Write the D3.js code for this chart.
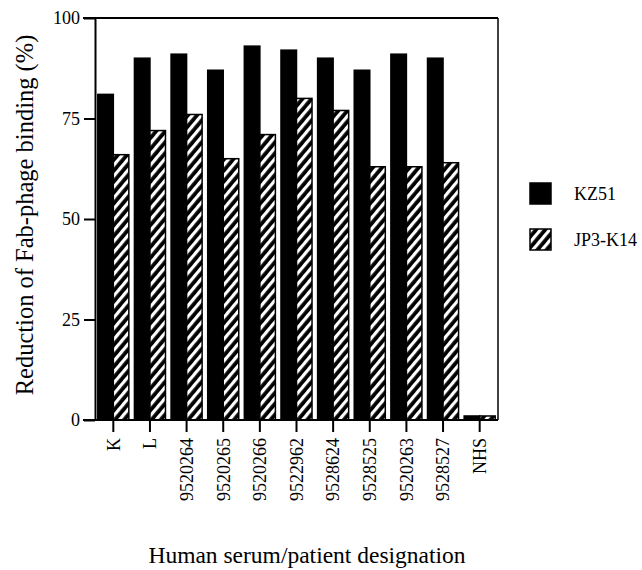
<!DOCTYPE html>
<html>
<head>
<meta charset="utf-8">
<script src="https://cdn.jsdelivr.net/npm/d3@7"></script>
<style>
  body { margin: 0; background: #fff; }
  svg text { font-family: "Liberation Serif", "DejaVu Serif", serif !important; fill: #000; }
</style>
</head>
<body>
<script>
// categories and values
var categories = ["K", "L", "9520264", "9520265", "9520266", "9522962", "9528624", "9528525", "9520263", "9528527", "NHS"];
var kz51 = [81, 90, 91, 87, 93, 92, 90, 87, 91, 90, 1];
var jp3k14 = [66, 72, 76, 65, 71, 80, 77, 63, 63, 64, 1];
var seriesNames = ["KZ51", "JP3-K14"];
var yTicks = [0, 25, 50, 75, 100];

var w = 642, h = 570;
var plotLeft = 95, plotRight = 498, plotTop = 18, plotBottom = 420;
var serif = "Liberation Serif, DejaVu Serif, serif";

var svg = d3.select("body").append("svg")
    .attr("width", w)
    .attr("height", h)
    .attr("font-family", serif);

// hatch pattern: black with white diagonal stripes
var defs = svg.append("defs");
defs.append("pattern")
    .attr("id", "hatch")
    .attr("patternUnits", "userSpaceOnUse")
    .attr("width", 7)
    .attr("height", 7)
    .attr("patternTransform", "rotate(40)")
    .call(function(p) {
        p.append("rect").attr("width", 7).attr("height", 7).attr("fill", "#000");
        p.append("rect").attr("x", 0).attr("width", 3.2).attr("height", 7).attr("fill", "#fff");
    });

var x = d3.scaleBand()
    .domain(categories)
    .range([plotLeft, plotRight])
    .paddingInner(0)
    .paddingOuter(0);

var xs = d3.scaleBand()
    .domain(seriesNames)
    .range([0, x.bandwidth()])
    .paddingOuter(0.18)
    .paddingInner(0);

var y = d3.scaleLinear()
    .domain([0, 100])
    .range([plotBottom, plotTop]);

var data = categories.map(function(c, i) {
    return { cat: c, vals: [
        { s: "KZ51", v: kz51[i] },
        { s: "JP3-K14", v: jp3k14[i] }
    ]};
});

// bars
var groups = svg.selectAll("g.grp")
    .data(data)
    .enter()
    .append("g")
    .attr("class", "grp")
    .attr("transform", function(d) { return "translate(" + x(d.cat) + ",0)"; });

groups.selectAll("rect")
    .data(function(d) { return d.vals; })
    .enter()
    .append("rect")
    .attr("x", function(d) { return xs(d.s); })
    .attr("width", xs.bandwidth())
    .attr("y", function(d) { return y(d.v); })
    .attr("height", function(d) { return y(0) - y(d.v); })
    .attr("fill", function(d) { return d.s == "KZ51" ? "#000" : "url(#hatch)"; })
    .attr("stroke", "#000")
    .attr("stroke-width", 1.5);

// frame (top and right)
svg.append("line")
    .attr("x1", plotLeft - 12).attr("x2", plotRight)
    .attr("y1", plotTop).attr("y2", plotTop)
    .attr("stroke", "#000").attr("stroke-width", 2);
svg.append("line")
    .attr("x1", plotRight).attr("x2", plotRight)
    .attr("y1", plotTop).attr("y2", plotBottom)
    .attr("stroke", "#000").attr("stroke-width", 1.5);

// axes
var yAxis = d3.axisLeft(y)
    .tickValues(yTicks)
    .tickSize(11)
    .tickSizeOuter(0)
    .tickPadding(4);

var xAxis = d3.axisBottom(x)
    .tickSize(12)
    .tickSizeOuter(0);

var gy = svg.append("g")
    .attr("transform", "translate(" + plotLeft + ",0)")
    .call(yAxis)
    .attr("font-family", serif);
gy.select(".domain").attr("stroke-width", 2);
gy.selectAll(".tick line").attr("stroke-width", 2);
gy.selectAll(".tick text")
    .attr("font-family", serif)
    .attr("font-size", "18px");

var gx = svg.append("g")
    .attr("transform", "translate(0," + plotBottom + ")")
    .call(xAxis)
    .attr("font-family", serif);
gx.select(".domain").remove();
gx.append("line")
    .attr("x1", plotLeft - 12).attr("x2", plotRight)
    .attr("stroke", "#000").attr("stroke-width", 2);
gx.selectAll(".tick line").attr("stroke-width", 2);
gx.selectAll(".tick text")
    .attr("font-family", serif)
    .attr("font-size", "18px")
    .attr("text-anchor", "end")
    .attr("transform", "rotate(-90)")
    .attr("x", -18)
    .attr("y", 0)
    .attr("dy", "0.35em");

// axis titles
svg.append("text")
    .attr("transform", "translate(33,215) rotate(-90)")
    .attr("text-anchor", "middle")
    .attr("font-family", serif)
    .attr("font-size", "24.5px")
    .text("Reduction of Fab-phage binding (%)");

svg.append("text")
    .attr("x", 307)
    .attr("y", 563)
    .attr("text-anchor", "middle")
    .attr("font-family", serif)
    .attr("font-size", "23.5px")
    .text("Human serum/patient designation");

// legend
var legend = svg.selectAll("g.leg")
    .data(seriesNames)
    .enter()
    .append("g")
    .attr("class", "leg")
    .attr("transform", function(d, i) { return "translate(530," + (183 + i * 46) + ")"; });

legend.append("rect")
    .attr("width", 21)
    .attr("height", 21)
    .attr("fill", function(d) { return d == "KZ51" ? "#000" : "url(#hatch)"; })
    .attr("stroke", "#000")
    .attr("stroke-width", 1.5);

legend.append("text")
    .attr("x", 44)
    .attr("y", 17)
    .attr("font-family", serif)
    .attr("font-size", "18px")
    .text(function(d) { return d; });
</script>
</body>
</html>
